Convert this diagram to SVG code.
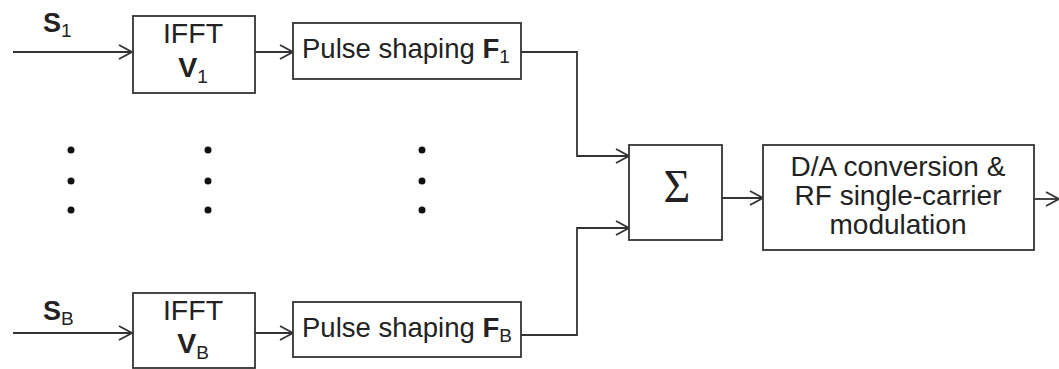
<svg xmlns="http://www.w3.org/2000/svg" width="1059" height="369" viewBox="0 0 1059 369">
<style>
.box{fill:#fff;stroke:#333;stroke-width:1.8}
.wire{fill:none;stroke:#333;stroke-width:1.8;marker-end:url(#arr)}
.t{font-family:"Liberation Sans",Arial,sans-serif;font-size:28.5px;fill:#222}
.lbl{font-size:27px}
.ps{font-size:27.5px}
.da{font-size:28px}
.b{font-weight:bold}
.sub{font-size:19px;font-weight:normal}
.dot{fill:#111}
</style>
<defs>
<marker id="arr" markerUnits="userSpaceOnUse" viewBox="-16 -10 20 20" markerWidth="20" markerHeight="20" refX="0" refY="0" orient="auto">
<path d="M-13,-7 L0,0 L-13,7" fill="none" stroke="#333" stroke-width="1.8"/>
</marker>
</defs>
<rect width="1059" height="369" fill="#fff"/>
<g id="connectors">
<path class="wire" d="M13,52 H132"/>
<path class="wire" d="M255,52 H293"/>
<path class="wire" d="M521,52 H577 V156 H629"/>
<path class="wire" d="M13,333 H132"/>
<path class="wire" d="M255,333 H293"/>
<path class="wire" d="M521,335 H577 V228 H629"/>
<path class="wire" d="M722,198 H763"/>
<path class="wire" d="M1034,199 H1059"/>
</g>
<g id="label-s1"><text class="t lbl b" x="43" y="32">S<tspan class="sub" dy="5">1</tspan></text></g>
<g id="label-sb"><text class="t lbl b" x="43" y="320">S<tspan class="sub" dy="5">B</tspan></text></g>
<g id="ifft1">
<rect class="box" x="133" y="16" width="122" height="77"/>
<text class="t" x="193" y="43" text-anchor="middle">IFFT</text>
<text class="t" x="193" y="77" text-anchor="middle"><tspan class="b">V</tspan><tspan class="sub" dy="6">1</tspan></text>
</g>
<g id="ifftb">
<rect class="box" x="133" y="293" width="122" height="75"/>
<text class="t" x="193" y="320" text-anchor="middle">IFFT</text>
<text class="t" x="193" y="353" text-anchor="middle"><tspan class="b">V</tspan><tspan class="sub" dy="6">B</tspan></text>
</g>
<g id="pulse1">
<rect class="box" x="293" y="23" width="228" height="56"/>
<text class="t ps" x="302" y="58">Pulse shaping <tspan class="b">F</tspan><tspan class="sub" dy="5">1</tspan></text>
</g>
<g id="pulseb">
<rect class="box" x="293" y="302" width="228" height="55"/>
<text class="t ps" x="302" y="337">Pulse shaping <tspan class="b">F</tspan><tspan class="sub" dy="5">B</tspan></text>
</g>
<g id="dots">
<circle class="dot" cx="71" cy="150" r="3.5"/><circle class="dot" cx="71" cy="181" r="3.5"/><circle class="dot" cx="71" cy="210" r="3.5"/>
<circle class="dot" cx="208" cy="150" r="3.5"/><circle class="dot" cx="208" cy="181" r="3.5"/><circle class="dot" cx="208" cy="210" r="3.5"/>
<circle class="dot" cx="422" cy="150" r="3.5"/><circle class="dot" cx="422" cy="181" r="3.5"/><circle class="dot" cx="422" cy="210" r="3.5"/>
</g>
<g id="sum">
<rect class="box" x="629" y="145" width="93" height="95"/>
<text x="677" y="202" text-anchor="middle" font-family="'Liberation Serif','Times New Roman',serif" font-size="46" fill="#222">Σ</text>
</g>
<g id="da">
<rect class="box" x="763" y="145" width="271" height="105"/>
<text class="t da" x="898" y="176" text-anchor="middle">D/A conversion &amp;</text>
<text class="t da" x="898" y="205" text-anchor="middle">RF single-carrier</text>
<text class="t da" x="898" y="234" text-anchor="middle">modulation</text>
</g>
</svg>
